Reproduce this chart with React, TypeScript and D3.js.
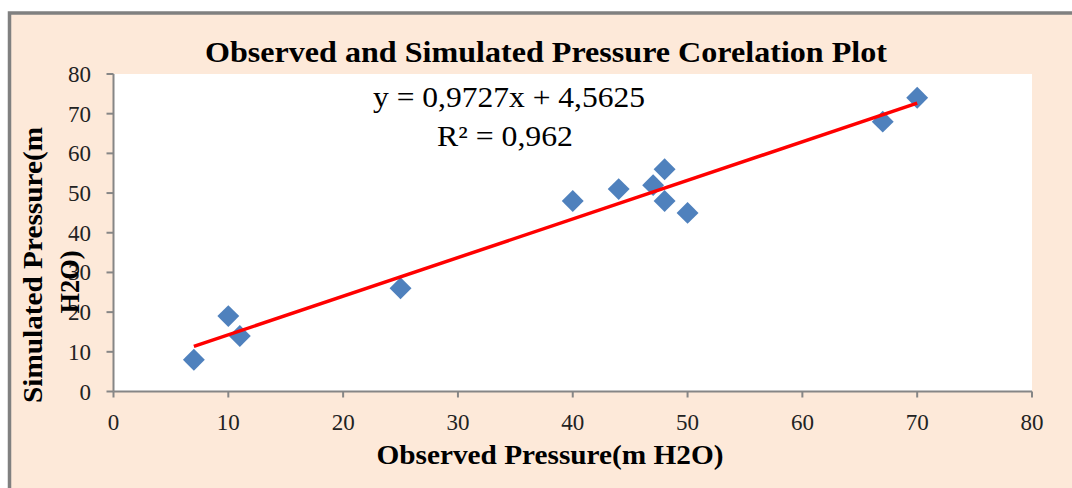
import React from "react";
import * as d3 from "d3";

const observed = [7, 10, 11, 25, 40, 44, 47, 48, 48, 50, 67, 70];
const simulated = [8, 19, 14, 26, 48, 51, 52, 56, 48, 45, 68, 74];
const xTicks = [0, 10, 20, 30, 40, 50, 60, 70, 80];
const yTicks = [0, 10, 20, 30, 40, 50, 60, 70, 80];
const trendSlope = 0.9727;
const trendIntercept = 4.5625;
const titleText = "Observed and Simulated Pressure Corelation Plot";
const xLabel = "Observed Pressure(m H2O)";
const yLabelLines = ["Simulated Pressure(m", "H2O)"];
const eqLine1 = "y = 0,9727x  + 4,5625";
const eqLine2 = "R² = 0,962";

const W = 1072;
const H = 488;
const serif = "'Liberation Serif', 'Times New Roman', serif";

export default function App() {
  const x = d3.scaleLinear().domain([0, 80]).range([113.5, 1032]);
  const y = d3.scaleLinear().domain([0, 80]).range([391.5, 74]);
  const diamond = d3.symbol().type(d3.symbolSquare).size(240)();
  const xMin = d3.min(observed) as number;
  const xMax = d3.max(observed) as number;
  const trend = d3.line<number>()
    .x((v) => x(v))
    .y((v) => y(trendSlope * v + trendIntercept))([xMin, xMax]);
  const axisColor = "#868686";

  return (
    <svg
      width={W}
      height={H}
      style={{ position: "absolute", left: 0, top: 0, display: "block" }}
      fontFamily={serif}
    >
      <rect x={0} y={0} width={W} height={H} fill="#ffffff" />
      <rect x={9.5} y={13} width={W + 20} height={H + 20} fill="#FDE9D9" stroke="#808080" strokeWidth={3.5} />
      <rect x={x(0)} y={y(80)} width={x(80) - x(0)} height={y(0) - y(80)} fill="#ffffff" />

      <text x={546} y={62} textAnchor="middle" fontWeight="bold" fontSize={29} textLength={682} lengthAdjust="spacingAndGlyphs" fill="#000">
        {titleText}
      </text>

      {/* axes */}
      <line x1={x(0)} x2={x(80)} y1={y(0)} y2={y(0)} stroke={axisColor} strokeWidth={2} />
      <line x1={x(0)} x2={x(0)} y1={y(0)} y2={y(80)} stroke={axisColor} strokeWidth={2} />
      {xTicks.map((t) => (
        <g key={"xt" + t}>
          <line x1={x(t)} x2={x(t)} y1={y(0)} y2={y(0) + 6} stroke={axisColor} strokeWidth={2} />
          <text x={x(t)} y={430} textAnchor="middle" fontSize={23} fill="#222">{t}</text>
        </g>
      ))}
      {yTicks.map((t) => (
        <g key={"yt" + t}>
          <line x1={x(0) - 7} x2={x(0)} y1={y(t)} y2={y(t)} stroke={axisColor} strokeWidth={2} />
          <text x={91} y={y(t) + 8} textAnchor="end" fontSize={23} fill="#222">{t}</text>
        </g>
      ))}

      {/* points */}
      {observed.map((o, i) => (
        <path
          key={"p" + i}
          d={diamond}
          transform={`translate(${x(o)},${y(simulated[i])}) rotate(45)`}
          fill="#4F81BD"
        />
      ))}

      {/* trend line */}
      <path d={trend || ""} stroke="#FF0000" strokeWidth={3.5} fill="none" />

      {/* equation */}
      <text x={509} y={107} textAnchor="middle" fontSize={29} textLength={272} lengthAdjust="spacingAndGlyphs" fill="#000">{eqLine1}</text>
      <text x={505} y={146} textAnchor="middle" fontSize={29} textLength={136} lengthAdjust="spacingAndGlyphs" fill="#000">{eqLine2}</text>

      {/* axis labels */}
      <text x={550} y={464} textAnchor="middle" fontWeight="bold" fontSize={27} textLength={347} lengthAdjust="spacingAndGlyphs" fill="#000">{xLabel}</text>
      <text transform="translate(42,265) rotate(-90)" textAnchor="middle" fontWeight="bold" fontSize={27} textLength={276} lengthAdjust="spacingAndGlyphs" fill="#000">{yLabelLines[0]}</text>
      <text transform="translate(79,282) rotate(-90)" textAnchor="middle" fontWeight="bold" fontSize={27} textLength={63} lengthAdjust="spacingAndGlyphs" fill="#000">{yLabelLines[1]}</text>
    </svg>
  );
}
